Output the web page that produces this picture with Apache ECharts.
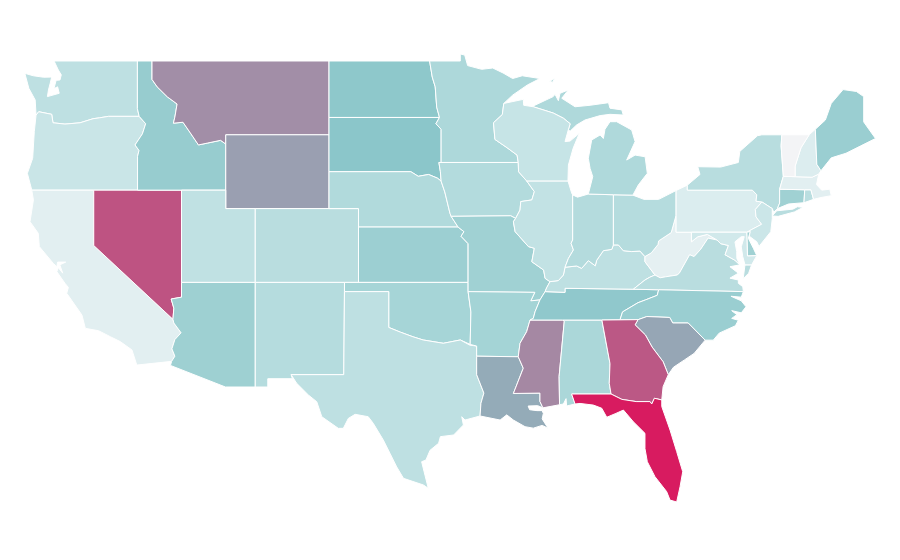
<!DOCTYPE html>
<html><head><meta charset="utf-8">
<style>html,body{margin:0;padding:0;background:#fff}#c{width:900px;height:560px}</style>
<script src="https://cdn.jsdelivr.net/npm/echarts@6/dist/echarts.min.js"></script>
</head><body><div id="c"></div>
<script>
const stateNames = ['WA','OR','CA','NV','ID','MT','WY','UT','CO','AZ','NM','ND','SD','NE','KS','OK','TX','MN','IA','MO','AR','LA','MS','AL','TN','KY','WV','VA','NC','SC','GA','FL','IL','IN','OH','MI','WI','PA','NY','NJ','DE','MD','CT','RI','MA','NH','VT','ME'];
const stateValues = [24.8,19.6,8,83.5,43,66,61,24,27.5,40,29,47,48.5,31,40.6,36,25,33,30,39,37,57.5,68,34,46.5,25,6.5,27.5,41.5,59,82,100,23,29.5,29,32,21,11,28,18.7,39,16,39,27,8,10.7,0,41.5];
const scaleStops = ['#f3f4f6','#d8ecee','#bee0e2','#a3d3d5','#88c4c8','#9c9aae','#b07094','#c4457a','#d81b60'];

// State outlines as longitude,latitude rings
const outlines = {
WA:['-122.69,49 -117.04,49 -117.04,46.42 -116.92,46 -119,46 -119.6,45.92 -120.05,45.87 -120.93,45.65 -121.95,45.58 -122.76,45.65 -122.85,46.11 -123.73,46.25 -123.91,46.07 -123.97,46.89 -124.4,47.52 -124.67,48.33 -124.1,48.2 -123.4,48.12 -122.85,48.13 -122.95,47.8 -123.07,47.43 -123.14,47.07 -122.34,47.25 -122.45,47.6 -122.7,47.5 -122.55,47.95 -122.29,47.97 -122.2,48.25 -122.4,48.51'],
OR:['-124.2,42 -124.5,42.91 -124.14,43.73 -124.03,45.17 -123.91,46.07 -123.73,46.25 -122.85,46.11 -122.76,45.65 -121.95,45.58 -120.93,45.65 -120.05,45.87 -119.6,45.92 -119,46 -116.92,46 -116.48,45.6 -116.7,45.05 -117.2,44.45 -116.93,44.15 -117.03,43.83 -117.03,42'],
CA:['-124.2,42 -120,42 -120,39 -114.63,35 -114.57,34.8 -114.08,34.27 -114.5,33.9 -114.7,33.4 -114.5,33 -114.72,32.72 -117.08,32.52 -117.41,33.34 -118.2,33.79 -118.88,34.06 -119.67,34.38 -120.57,34.51 -120.8,35.23 -121.83,36.41 -121.72,36.73 -121.95,36.95 -122.5,37.58 -122.4,37.8 -122.1,37.5 -122.3,37.95 -121.9,38.1 -122.45,38.1 -122.5,37.85 -122.74,38.03 -123.69,38.94 -123.76,39.66 -124.32,40.29 -124.09,41.47'],
NV:['-120,42 -114.05,42 -114.05,36.2 -114.75,36.1 -114.57,35.6 -114.63,35 -120,39'],
ID:['-117.04,49 -116.05,49 -116.05,48 -115.7,47.6 -115,47.05 -114.35,46.67 -114.5,45.96 -114.6,45.63 -113.95,45.68 -113.45,45.1 -112.9,44.45 -112.3,44.55 -111.4,44.7 -111.05,44.5 -111.05,42 -117.03,42 -117.03,43.83 -116.93,44.15 -117.2,44.45 -116.7,45.05 -116.48,45.6 -116.92,46 -117.04,46.42'],
MT:['-116.05,49 -104.05,49 -104.05,45 -111.05,45 -111.05,44.5 -111.4,44.7 -112.3,44.55 -112.9,44.45 -113.45,45.1 -113.95,45.68 -114.6,45.63 -114.5,45.96 -114.35,46.67 -115,47.05 -115.7,47.6 -116.05,48'],
WY:['-111.05,45 -104.05,45 -104.05,41 -111.05,41'],
UT:['-114.05,42 -111.05,42 -111.05,41 -109.05,41 -109.05,37 -114.05,37'],
CO:['-109.05,41 -102.05,41 -102.05,37 -109.05,37'],
AZ:['-114.05,37 -109.05,37 -109.05,31.33 -111.07,31.33 -114.8,32.5 -114.72,32.72 -114.5,33 -114.7,33.4 -114.5,33.9 -114.08,34.27 -114.57,34.8 -114.63,35 -114.57,35.6 -114.75,36.1 -114.05,36.2'],
NM:['-109.05,37 -103,37 -103.05,32 -106.62,32 -106.53,31.78 -108.2,31.78 -108.2,31.33 -109.05,31.33'],
ND:['-104.05,49 -97.23,49 -97.05,48.13 -96.85,47.6 -96.75,46.5 -96.56,45.94 -104.05,45.94'],
SD:['-104.05,45.94 -96.56,45.94 -96.8,45.6 -96.45,45.3 -96.45,43.5 -96.6,43.5 -96.5,43 -96.45,42.49 -96.7,42.65 -97.3,42.85 -98,42.75 -98.5,43 -104.05,43'],
NE:['-104.05,43 -98.5,43 -98,42.75 -97.3,42.85 -96.7,42.65 -96.45,42.49 -96.2,41.9 -95.85,40.75 -95.77,40.58 -95.3,40 -102.05,40 -102.05,41 -104.05,41'],
KS:['-102.05,40 -95.3,40 -94.9,39.75 -95.1,39.5 -94.62,39.1 -94.62,37 -102.05,37'],
OK:['-103,37 -94.62,37 -94.62,36.5 -94.43,35.4 -94.48,33.64 -94.5,33.6 -95.15,33.88 -96.3,33.7 -97.67,33.88 -98.35,34.05 -99.2,34.3 -100,34.56 -100,36.5 -103,36.5'],
TX:['-103,36.5 -100,36.5 -100,34.56 -99.2,34.3 -98.35,34.05 -97.67,33.88 -96.3,33.7 -95.15,33.88 -94.5,33.6 -94.04,33.55 -94.04,33 -94.04,32 -93.55,31 -93.75,30.45 -93.81,29.76 -94.83,29.54 -95.05,29.72 -94.94,29.27 -95.6,28.73 -96.5,28.64 -96.62,28.28 -97.2,27.9 -97.48,27.37 -97.77,27.28 -97.6,26.73 -97.32,25.84 -97.65,26.02 -99,26.38 -99.46,27 -99.92,27.74 -100.37,28.46 -101.05,29.36 -101.39,29.72 -102.28,29.85 -102.74,29.63 -103.08,29.09 -103.42,29.09 -104.54,29.72 -104.88,30.53 -105.45,30.9 -106.24,31.53 -106.62,32 -103.05,32'],
MN:['-97.23,49 -95.15,49 -95.15,49.38 -94.85,49.32 -94.65,48.75 -93.7,48.55 -92.95,48.62 -92.25,48.35 -91.6,48.05 -90.95,48.2 -89.75,48.05 -90.6,47.7 -91.6,47.15 -92.2,46.7 -92.3,46.1 -92.9,45.65 -92.8,44.75 -91.98,44.3 -91.3,43.9 -91.22,43.5 -96.45,43.5 -96.45,45.3 -96.8,45.6 -96.56,45.94 -96.75,46.5 -96.85,47.6 -97.05,48.13'],
IA:['-96.6,43.5 -91.22,43.5 -91.2,43 -90.65,42.5 -90.13,41.92 -90.3,41.47 -91.05,41.38 -91.1,40.92 -91.4,40.47 -91.73,40.61 -95.77,40.58 -95.85,40.75 -96.2,41.9 -96.45,42.49 -96.5,43'],
MO:['-95.77,40.58 -91.73,40.61 -91.4,40.47 -91.55,40.29 -91.43,39.75 -90.53,38.94 -90.13,38.85 -90.3,38.12 -89.5,37.67 -89.4,37.22 -89.07,37.04 -89.3,36.7 -89.4,36.5 -89.75,36.05 -90.37,36 -90.1,36.46 -94.62,36.5 -94.62,37 -94.62,39.1 -95.1,39.5 -94.9,39.75 -95.3,40'],
AR:['-94.62,36.5 -90.1,36.46 -90.37,36 -89.75,36.05 -90.08,35.41 -90.2,35.05 -90.42,34.96 -90.65,34.33 -91.1,33.7 -91.22,32.97 -94.04,33 -94.04,33.55 -94.48,33.64 -94.43,35.4'],
LA:['-94.04,33 -91.22,32.97 -90.88,32.35 -91.55,30.98 -89.75,31 -89.75,30.55 -89.55,30.2 -89.9,30.32 -90.55,30.3 -90.45,30.1 -89.95,30.05 -89.6,30.05 -89.52,29.9 -89.6,29.6 -89.2,29.1 -89.6,29.25 -90.2,29.1 -90.76,29.18 -91.55,29.54 -92,29.82 -92.45,29.54 -93.81,29.76 -93.75,30.45 -93.55,31 -94.04,32'],
MS:['-90.42,34.96 -88.2,34.96 -88.1,34.9 -88.45,31.9 -88.42,30.37 -89.55,30.2 -89.75,30.55 -89.75,31 -91.55,30.98 -90.88,32.35 -91.22,32.97 -91.1,33.7 -90.65,34.33'],
AL:['-88.2,34.96 -85.55,34.96 -85,32.6 -85.05,31.53 -84.93,30.95 -87.6,30.95 -87.37,30.41 -87.94,30.3 -87.98,30.7 -88.16,30.41 -88.42,30.37 -88.45,31.9 -88.1,34.9'],
TN:['-90.42,34.96 -90.2,35.05 -90.08,35.41 -89.75,36.05 -89.4,36.5 -88.05,36.46 -88.05,36.68 -83.42,36.63 -81.7,36.6 -81.8,36.3 -82.6,36.05 -83.1,35.9 -84.15,35.4 -84.32,34.98 -85.55,34.96 -88.2,34.96'],
KY:['-89.4,36.5 -88.05,36.46 -88.05,36.68 -83.42,36.63 -82.63,37.13 -82.3,37.28 -81.95,37.4 -82.63,38.12 -82.63,38.4 -82.97,38.7 -83.53,38.67 -84.1,38.72 -84.43,39.03 -84.77,39.03 -84.88,38.79 -85.45,38.72 -85.9,38.2 -86,37.9 -86.47,38.18 -86.92,37.76 -87.26,37.89 -88.05,37.82 -88.16,37.4 -88.5,37.1 -89.07,37.04 -89.3,36.7'],
WV:['-80.52,40.64 -80.52,39.72 -79.48,39.72 -79.48,39.2 -79.05,39.47 -78.4,39.6 -77.75,39.3 -78.35,39.4 -78.85,38.8 -79.3,38.4 -79.6,38.5 -80.3,37.5 -80.45,37.4 -81.25,37.3 -81.6,37.25 -81.95,37.4 -82.63,38.12 -82.63,38.4 -82.2,38.6 -81.75,39.05 -81.7,39.25 -80.85,39.7'],
VA:['-83.42,36.63 -81.7,36.6 -75.96,36.5 -76,36.77 -76.3,36.95 -76.3,37.13 -76.87,37.23 -76.3,37.5 -76.87,37.85 -76.2,37.95 -76.53,38.2 -77.2,38.5 -76.97,39 -77.5,39.1 -77.75,39.3 -78.35,39.4 -78.85,38.8 -79.3,38.4 -79.6,38.5 -80.3,37.5 -80.45,37.4 -81.25,37.3 -81.6,37.25 -81.95,37.4 -82.3,37.28 -82.63,37.13','-75.4,37.95 -75.85,37.95 -75.97,37.2 -75.6,37.5'],
NC:['-84.32,34.98 -84.15,35.4 -83.1,35.9 -82.6,36.05 -81.8,36.3 -81.7,36.6 -75.96,36.5 -76.1,36.2 -76.8,36.25 -76.1,36 -75.78,35.68 -76.1,35.35 -76.75,35.47 -76.4,35.25 -76.75,35.05 -76.3,34.95 -76.5,34.65 -77.6,34.25 -78,33.87 -78.55,33.87 -79.7,34.8 -80.75,34.8 -80.95,35.1 -82.5,35.15 -83.1,34.98'],
SC:['-83.3,34.7 -83.1,34.98 -82.5,35.15 -80.95,35.1 -80.75,34.8 -79.7,34.8 -78.55,33.87 -79.3,33.15 -79.95,32.8 -80.7,32.4 -81.05,32 -81.4,32.7 -82.15,33.5 -82.6,34.15'],
GA:['-85.55,34.96 -83.1,34.98 -83.3,34.7 -82.6,34.15 -82.15,33.5 -81.4,32.7 -81.05,32 -81.4,31.35 -81.49,30.63 -81.99,30.72 -82.17,30.41 -82.29,30.54 -83.23,30.54 -84.2,30.66 -84.93,30.95 -85.05,31.53 -85,32.6'],
FL:['-87.6,30.95 -84.93,30.95 -84.2,30.66 -83.23,30.54 -82.29,30.54 -82.17,30.41 -81.99,30.72 -81.49,30.63 -81.49,30.27 -80.93,29 -80.48,27.83 -80.07,26.74 -80.25,25.93 -80.48,25.1 -80.93,25.2 -81.16,25.66 -81.95,26.47 -82.47,27.28 -82.63,28 -82.63,28.82 -83.42,29.45 -84.09,30.08 -84.6,29.9 -85.22,29.69 -85.56,30.18 -86.13,30.35 -87.03,30.44 -87.37,30.41'],
IL:['-90.65,42.5 -87.85,42.5 -87.6,41.85 -87.53,41.74 -87.53,39.3 -87.64,39.12 -87.48,38.76 -87.82,38.3 -88.05,37.82 -88.16,37.4 -88.5,37.1 -89.07,37.04 -89.4,37.22 -89.5,37.67 -90.3,38.12 -90.13,38.85 -90.53,38.94 -91.43,39.75 -91.55,40.29 -91.4,40.47 -91.1,40.92 -91.05,41.38 -90.3,41.47 -90.13,41.92'],
IN:['-87.53,41.74 -87.2,41.62 -86.47,41.79 -84.77,41.75 -84.77,39.03 -84.88,38.79 -85.45,38.72 -85.9,38.2 -86,37.9 -86.47,38.18 -86.92,37.76 -87.26,37.89 -88.05,37.82 -87.82,38.3 -87.48,38.76 -87.64,39.12 -87.53,39.3'],
OH:['-84.77,41.75 -83.45,41.73 -82.7,41.5 -81.7,41.5 -80.52,41.98 -80.52,40.64 -80.85,39.7 -81.7,39.25 -81.75,39.05 -82.2,38.6 -82.63,38.4 -82.97,38.7 -83.53,38.67 -84.1,38.72 -84.43,39.03 -84.77,39.03'],
MI:['-90.2,46.52 -90.1,46.6 -88.85,47.07 -88.73,47.2 -88.5,46.85 -88.39,47.25 -87.83,47.43 -88.27,46.98 -87.37,46.52 -86.35,46.6 -85.1,46.74 -85,46.44 -84.2,46.35 -84.1,46.07 -85,46.11 -85.67,46.04 -86.7,45.8 -87.27,45.53 -87.7,45.2 -87.83,45.26 -87.7,45.6 -88.16,45.9 -88.85,46.18','-86.47,41.79 -86.17,42.73 -86.35,43.18 -86.47,43.73 -86.24,44.72 -85.67,44.99 -85.45,44.8 -85.34,45.3 -85,45.71 -84.55,45.71 -83.53,45.26 -83.3,44.63 -83.87,43.63 -83.3,43.9 -82.62,43.81 -82.47,42.91 -83.08,42.28 -83.45,41.73 -84.77,41.75','-89.1,47.9 -88.73,48.06 -88.9,47.85'],
WI:['-92.2,46.7 -90.88,46.92 -90.85,46.6 -90.2,46.52 -88.85,46.18 -88.16,45.9 -87.7,45.6 -87.83,45.26 -88.05,44.63 -87.71,44.66 -87.08,45.08 -87.5,44.27 -87.82,43.36 -87.85,42.5 -90.65,42.5 -91.2,43 -91.22,43.5 -91.3,43.9 -91.98,44.3 -92.8,44.75 -92.9,45.65 -92.3,46.1'],
PA:['-80.52,41.98 -79.76,42.27 -79.76,42 -75.35,42 -75.05,41.75 -75.1,41.4 -74.7,41.36 -75.15,40.95 -75.1,40.55 -74.72,40.15 -75.5,39.82 -75.73,39.72 -79.48,39.72 -80.52,39.72 -80.52,40.64'],
NY:['-79.76,42.27 -78.9,42.85 -79.05,43.27 -77.5,43.25 -76.3,43.5 -76.2,44.1 -75,44.95 -74.7,45 -73.35,45 -73.4,44.4 -73.25,42.75 -73.5,42.05 -73.5,41.3 -73.65,41 -73.9,40.8 -74,41 -74.7,41.36 -75.1,41.4 -75.05,41.75 -75.35,42 -79.76,42','-74,40.6 -73.7,40.88 -72.6,40.97 -72.3,41.1 -71.9,41.07 -72.5,40.82 -73.6,40.58'],
NJ:['-74.7,41.36 -74,41 -74,40.45 -74.1,39.75 -74.9,38.95 -75.05,39.2 -75.55,39.5 -75.5,39.82 -74.72,40.15 -75.1,40.55 -75.15,40.95'],
DE:['-75.73,39.72 -75.5,39.75 -75.62,39.39 -75.28,38.85 -75.05,38.45 -75.68,38.43'],
MD:['-79.48,39.72 -75.73,39.72 -75.68,38.43 -75.05,38.45 -75.4,37.95 -75.85,37.95 -76,38.4 -76.1,38.93 -75.9,39.48 -76.1,39.48 -76.53,39.2 -76.41,38.67 -76.4,38.3 -76.2,37.95 -76.53,38.2 -77.2,38.5 -76.97,39 -77.5,39.1 -77.75,39.3 -78.4,39.6 -79.05,39.47 -79.48,39.2'],
CT:['-73.5,42.05 -71.8,42.02 -71.85,41.32 -72.9,41.25 -73.65,41 -73.5,41.3'],
RI:['-71.8,42.02 -71.38,42.02 -71.2,41.5 -71.85,41.32'],
MA:['-73.5,42.05 -73.25,42.75 -72.45,42.73 -71.3,42.7 -70.85,42.87 -71,42.3 -70.65,42 -70.1,42.05 -70,41.7 -70.7,41.6 -71.2,41.5 -71.38,42.02 -71.8,42.02'],
NH:['-71.5,45 -71.08,45.3 -70.98,43.4 -70.7,43.05 -70.85,42.87 -71.3,42.7 -72.45,42.73 -72.45,43.3 -72.05,44.3'],
VT:['-73.35,45 -71.5,45 -72.05,44.3 -72.45,43.3 -72.45,42.73 -73.25,42.75 -73.4,44.4'],
ME:['-71.08,45.3 -70.4,45.8 -70,46.7 -69.2,47.45 -68.3,47.35 -67.8,47.07 -67.8,45.7 -67.45,45.3 -67,44.8 -68,44.4 -69,44 -70,43.75 -70.7,43.05 -70.98,43.4']
};

const geo = {type:'FeatureCollection',features:stateNames.map(n=>({
  type:'Feature',properties:{name:n},
  geometry:{type:'MultiPolygon',coordinates:outlines[n].map(r=>{
    const ring=r.split(' ').map(p=>p.split(',').map(Number)); ring.push(ring[0]); return [ring];
  })}
}))};
echarts.registerMap('usa',geo);
const chart=echarts.init(document.getElementById('c'),null,{renderer:'canvas'});
chart.setOption({
  animation:false,
  backgroundColor:'#fff',
  visualMap:{show:false,min:0,max:100,inRange:{color:scaleStops}},
  series:[{
    type:'map',map:'usa',roam:false,silent:true,
    boundingCoords:[[-126.355,52.306],[-65.34,21.954]],
    aspectScale:0.7995,left:0,top:0,right:0,bottom:0,
    label:{show:false},
    itemStyle:{borderColor:'#fff',borderWidth:1},
    data:stateNames.map((n,i)=>({name:n,value:stateValues[i]}))
  }]
});
</script></body></html>
